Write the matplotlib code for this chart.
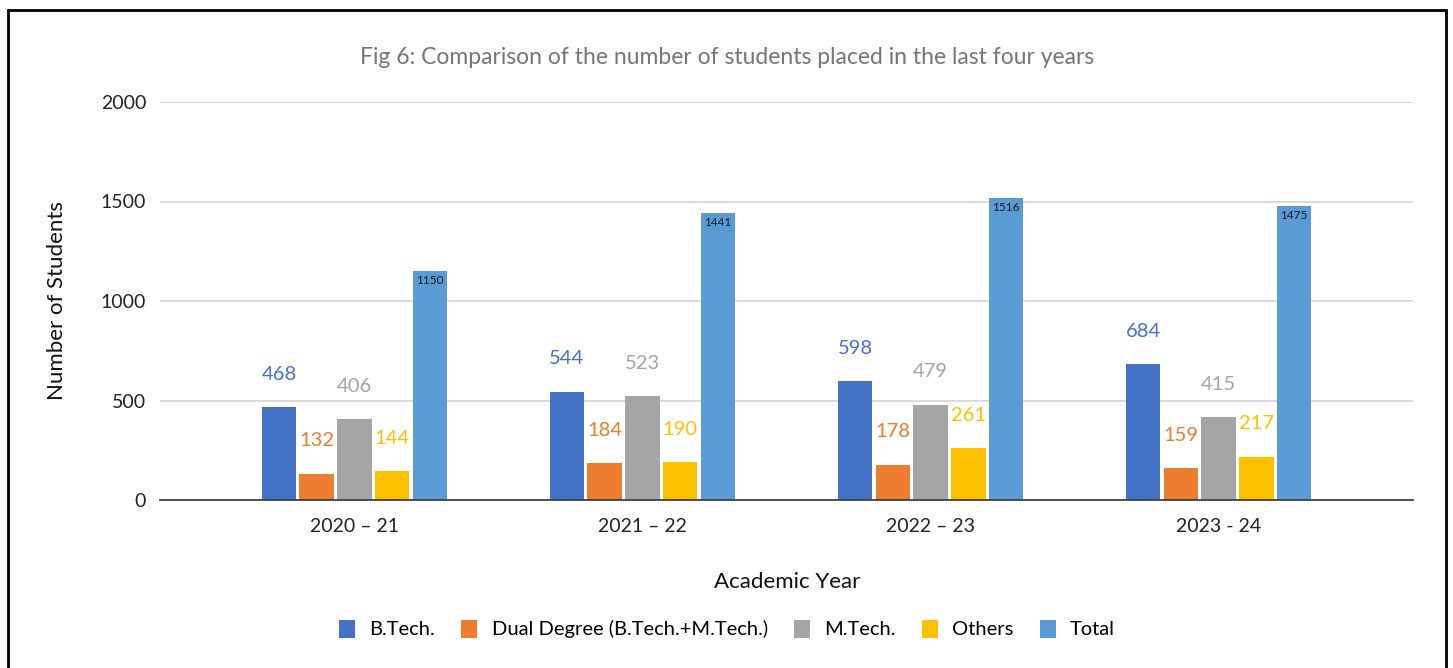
import numpy as np
import matplotlib
matplotlib.use("Agg")
import matplotlib.pyplot as plt
from matplotlib.patches import Rectangle

plt.rcParams["font.family"] = ["Lato", "DejaVu Sans"]

years = ["2020 – 21", "2021 – 22", "2022 – 23", "2023 - 24"]
series = ["B.Tech.", "Dual Degree (B.Tech.+M.Tech.)", "M.Tech.", "Others", "Total"]
btech = [468, 544, 598, 684]
dual = [132, 184, 178, 159]
mtech = [406, 523, 479, 415]
others = [144, 190, 261, 217]
total = [1150, 1441, 1516, 1475]
colors = ["#4472c4", "#ed7d31", "#a5a5a5", "#ffc000", "#5b9bd5"]

values = [btech, dual, mtech, others, total]

fig = plt.figure(figsize=(14.53, 6.68), dpi=100)
ax = fig.add_axes([160 / 1453, 1 - 500 / 668, 1253 / 1453, 398 / 668])

x = np.arange(len(years))
pitch = 0.131
width = 0.12
for i, (name, vals, c) in enumerate(zip(series, values, colors)):
    pos = x + (i - 2) * pitch
    ax.bar(pos, vals, width=width, color=c, label=name, zorder=3)
    for p, v in zip(pos, vals):
        if name == "Total":
            ax.text(p, v - 20, str(v), ha="center", va="top", fontsize=8.5,
                    color="#1a1a1a", zorder=4)
        else:
            ax.text(p, v + 165, str(v), ha="center", va="center",
                    fontsize=14.5, color=c, zorder=4)

ax.set_xlim(-0.675, 3.675)
ax.set_ylim(0, 2000)
ax.set_yticks([0, 500, 1000, 1500, 2000])
ax.set_xticks(x)
ax.set_xticklabels(years)
ax.tick_params(axis="both", length=0, labelsize=14, colors="#222222")
ax.tick_params(axis="x", pad=13)
ax.tick_params(axis="y", pad=10)
ax.grid(axis="y", color="#d4d4d4", lw=1.2, zorder=0)
for s in ["top", "right", "left"]:
    ax.spines[s].set_visible(False)
ax.spines["bottom"].set_color("#404040")
ax.spines["bottom"].set_linewidth(1.3)
ax.spines["bottom"].set_zorder(5)

ax.set_ylabel("Number of Students", fontsize=16, color="#111111", labelpad=24)
fig.text(787 / 1453, 1 - 582 / 668, "Academic Year", ha="center", va="center",
         fontsize=16, color="#111111")
fig.text(727 / 1453, 1 - 57 / 668,
         "Fig 6: Comparison of the number of students placed in the last four years",
         ha="center", va="center", fontsize=16.5, color="#757575")

fig.legend(loc="center", bbox_to_anchor=(727 / 1453, 1 - 629 / 668), ncol=5,
           frameon=False, fontsize=14.5, handlelength=0.8, handleheight=1.0,
           columnspacing=1.3, handletextpad=0.7)

fig.patches.append(Rectangle((8 / 1453, -0.05), 1438 / 1453, 1.05 - 10 / 668,
                             transform=fig.transFigure, fill=False,
                             edgecolor="black", lw=2))

fig.savefig("out.png", dpi=100)
